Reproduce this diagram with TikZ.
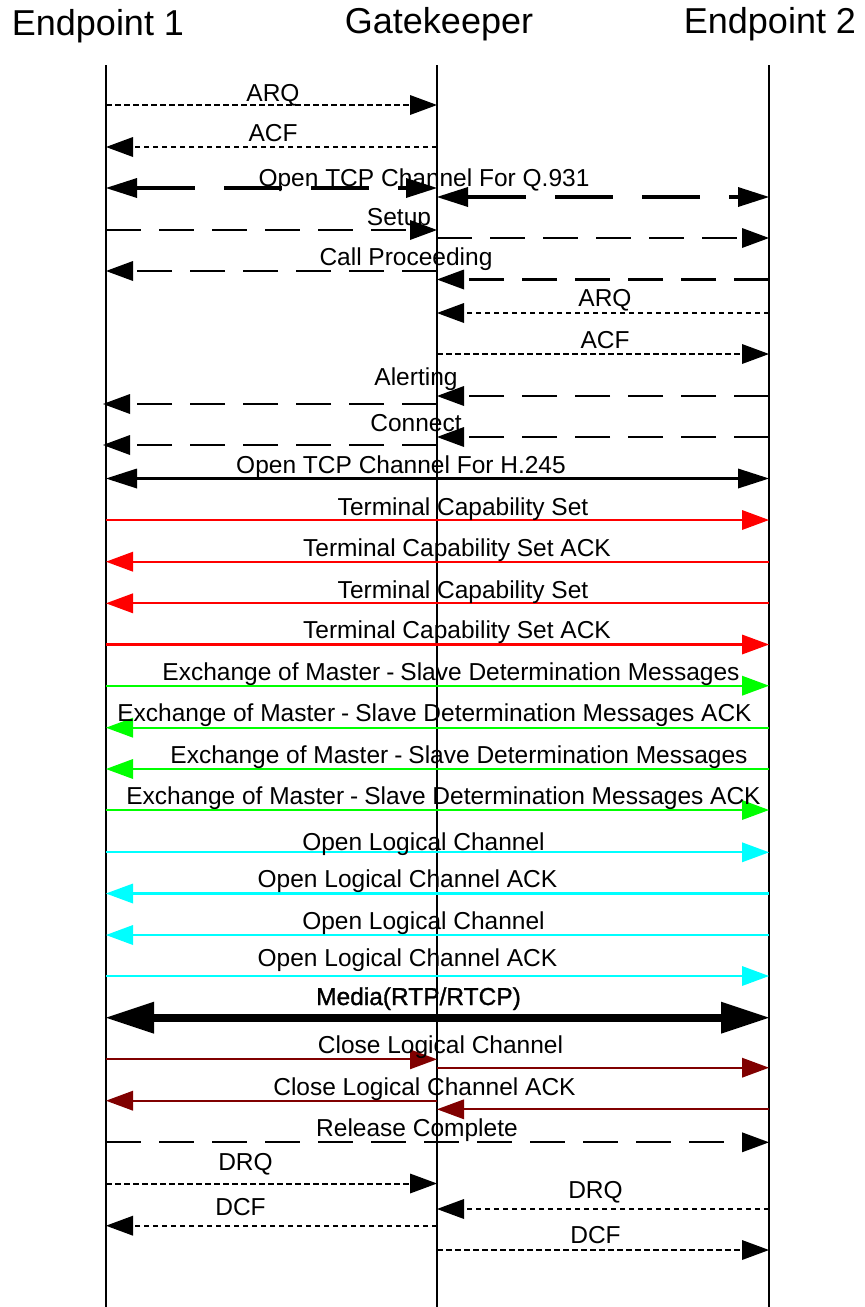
\documentclass[tikz,border=0pt]{standalone}
\usepackage{fontspec}
\setmainfont{Liberation Sans}
\newfontfamily\mediafont[FakeBold=1.2]{Liberation Sans}
\usetikzlibrary{arrows.meta}
\definecolor{dkred}{RGB}{128,0,0}
\definecolor{lgreen}{RGB}{0,255,0}
\definecolor{lcyan}{RGB}{0,255,255}
\newcommand\msgline[4]{\draw[#1] (#2 |- 0,#4) -- (#3 |- 0,#4);}
\newcommand\msl{\hspace{6pt}-\hspace{6pt}}
\begin{document}
\begin{tikzpicture}[x=1pt,y=-1pt,
 life/.style={line width=2.2pt},
 arr/.style={-{Triangle[length=27pt,width=20pt,line width=0pt]}},
 barr/.style={{Triangle[length=31pt,width=20pt,line width=0pt]}-{Triangle[length=31pt,width=20pt,line width=0pt]}},
 marr/.style={{Triangle[length=48pt,width=32pt,line width=0pt]}-{Triangle[length=48pt,width=32pt,line width=0pt]}},
 dots/.style={arr,line width=2pt,dash pattern=on 5.5pt off 3.5pt},
 ldash/.style={arr,line width=2.1pt,dash pattern=on 35pt off 18pt},
 tcp/.style={barr,line width=3.5pt,dash pattern=on 58pt off 29pt},
 rmsg/.style={arr,line width=2.2pt,draw=red,fill=red},
 gmsg/.style={arr,line width=2.2pt,draw=lgreen,fill=lgreen},
 cmsg/.style={arr,line width=2.2pt,draw=lcyan,fill=lcyan},
 dmsg/.style={arr,line width=2.2pt,draw=dkred,fill=dkred},
 lbl/.style={font=\fontsize{24.5}{26}\selectfont,anchor=base,inner sep=0pt},
 hdr/.style={font=\fontsize{36}{40}\selectfont,anchor=base,inner sep=0pt},
]
\useasboundingbox (0,0) rectangle (865,1307);
% lifelines
\coordinate (E1top) at (106,65); \coordinate (E1bot) at (106,1307);
\coordinate (GKtop) at (437,65); \coordinate (GKbot) at (437,1307);
\coordinate (E2top) at (769,65); \coordinate (E2bot) at (769,1307);
\draw[life] (E1top) -- (E1bot);
\draw[life] (GKtop) -- (GKbot);
\draw[life] (E2top) -- (E2bot);
% headers
\node[hdr] (h1) at (98,35) {Endpoint 1};
\node[hdr] (h2) at (439,33) {Gatekeeper};
\node[hdr] (h3) at (770,33) {Endpoint 2};
% RAS
\msgline{dots}{E1top}{GKtop}{105}
\node[lbl] (l1) at (273,101) {ARQ};
\msgline{dots}{GKtop}{E1top}{147}
\node[lbl] (l2) at (273,141.5) {ACF};
% Q.931 TCP
\msgline{tcp}{E1top}{GKtop}{188}
\msgline{tcp}{GKtop}{E2top}{197}
\node[lbl] (l3) at (424,186) {Open TCP Channel For Q.931};
% Setup
\msgline{ldash}{E1top}{GKtop}{230}
\msgline{ldash}{GKtop}{E2top}{238}
\node[lbl] (l4) at (399,225) {Setup};
% Call proceeding
\msgline{ldash}{E2top}{GKtop}{279.5}
\msgline{ldash}{GKtop}{E1top}{271}
\node[lbl] (l5) at (406,265) {Call Proceeding};
% ARQ/ACF EP2
\msgline{dots}{E2top}{GKtop}{313}
\node[lbl] (l6) at (605,306.5) {ARQ};
\msgline{dots}{GKtop}{E2top}{354}
\node[lbl] (l7) at (605,348) {ACF};
% Alerting
\msgline{ldash}{E2top}{GKtop}{396}
\draw[ldash] (GKtop |- 0,404) -- (103,404);
\node[lbl] (l8) at (416,385) {Alerting};
% Connect
\msgline{ldash}{E2top}{GKtop}{437}
\draw[ldash] (GKtop |- 0,445) -- (103,445);
\node[lbl] (l9) at (416,431) {Connect};
% H.245
\msgline{barr,line width=3.5pt}{E1top}{E2top}{478.5}
\node[lbl] (l10) at (401,473) {Open TCP Channel For H.245};
% TCS
\msgline{rmsg}{E1top}{E2top}{520}
\node[lbl] (l11) at (463,515) {Terminal Capability Set};
\msgline{rmsg}{E2top}{E1top}{561.7}
\node[lbl] (l12) at (457,556.7) {Terminal Capability Set ACK};
\msgline{rmsg}{E2top}{E1top}{603.3}
\node[lbl] (l13) at (463,598) {Terminal Capability Set};
\msgline{rmsg}{E1top}{E2top}{644.5}
\node[lbl] (l14) at (457,638.5) {Terminal Capability Set ACK};
% MSD
\msgline{gmsg}{E1top}{E2top}{685.7}
\node[lbl] (l15) at (451,680.7) {Exchange of Master\msl Slave Determination Messages};
\msgline{gmsg}{E2top}{E1top}{727.7}
\node[lbl] (l16) at (434.5,721.7) {Exchange of Master\msl Slave Determination Messages ACK};
\msgline{gmsg}{E2top}{E1top}{769}
\node[lbl] (l17) at (459,763) {Exchange of Master\msl Slave Determination Messages};
\msgline{gmsg}{E1top}{E2top}{810}
\node[lbl] (l18) at (443.5,804) {Exchange of Master\msl Slave Determination Messages ACK};
% OLC
\msgline{cmsg}{E1top}{E2top}{852.3}
\node[lbl] (l19) at (423.5,850.7) {Open Logical Channel};
\msgline{cmsg}{E2top}{E1top}{893.5}
\node[lbl] (l20) at (407.5,887) {Open Logical Channel ACK};
\msgline{cmsg}{E2top}{E1top}{935}
\node[lbl] (l21) at (423.5,929) {Open Logical Channel};
\msgline{cmsg}{E1top}{E2top}{976}
\node[lbl] (l22) at (407.5,966.7) {Open Logical Channel ACK};
% Media
\msgline{marr,line width=8pt}{E1top}{E2top}{1017.7}
\node[lbl,font=\mediafont\fontsize{24.5}{26}\selectfont] (l23) at (418.5,1005) {Media(RTP/RTCP)};
% CLC
\msgline{dmsg}{E1top}{GKtop}{1059.3}
\msgline{dmsg}{GKtop}{E2top}{1067.7}
\node[lbl] (l24) at (440.5,1053) {Close Logical Channel};
\msgline{dmsg}{E2top}{GKtop}{1109.3}
\msgline{dmsg}{GKtop}{E1top}{1100.7}
\node[lbl] (l25) at (424.5,1095) {Close Logical Channel ACK};
% Release
\msgline{ldash}{E1top}{E2top}{1142.3}
\node[lbl] (l26) at (417,1136.7) {Release Complete};
% DRQ/DCF
\msgline{dots}{E1top}{GKtop}{1183.5}
\node[lbl] (l27) at (245.5,1170) {DRQ};
\msgline{dots}{GKtop}{E1top}{1225.7}
\node[lbl] (l28) at (240.5,1215) {DCF};
\msgline{dots}{E2top}{GKtop}{1209}
\node[lbl] (l29) at (595.5,1198) {DRQ};
\msgline{dots}{GKtop}{E2top}{1250}
\node[lbl] (l30) at (595.5,1243) {DCF};
\end{tikzpicture}
\end{document}
